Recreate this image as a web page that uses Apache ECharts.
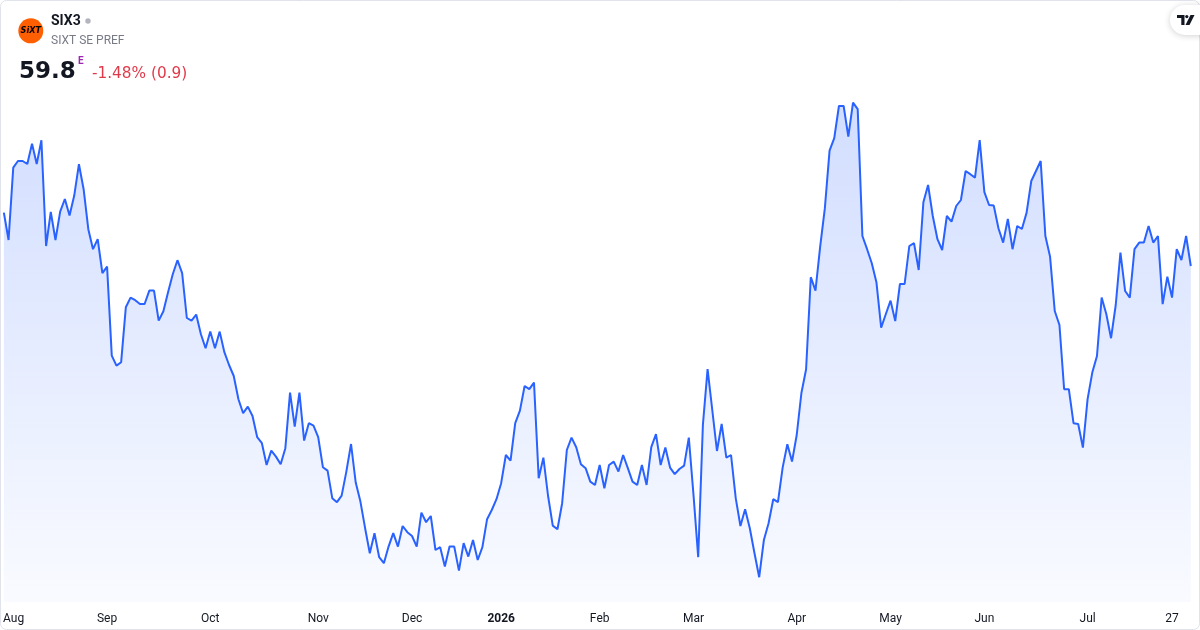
<!DOCTYPE html>
<html>
<head>
<meta charset="utf-8">
<script src="https://cdn.jsdelivr.net/npm/echarts@6/dist/echarts.min.js"></script>
<style>
html,body{margin:0;padding:0;background:#fff;}
#chart{width:1200px;height:630px;}
</style>
</head>
<body>
<div id="chart"></div>
<script>
// ---- data ----
const ticker = 'SIX3';
const companyName = 'SIXT SE PREF';
const lastPrice = '59.8';
const changeText = '-1.48% (0.9)';
const startDate = '2025-07-31';
const holidays = ['2025-12-24','2025-12-25','2025-12-26','2025-12-31','2026-01-01','2026-04-03','2026-04-06','2026-05-01'];
const extraLabelDays = ['2026-07-27'];
const monthNames = ['Jan','Feb','Mar','Apr','May','Jun','Jul','Aug','Sep','Oct','Nov','Dec'];
const prices = [
62.47,61.10,64.72,65.05,65.05,64.90,65.92,64.90,66.09,60.80,
62.50,61.10,62.52,63.15,62.32,63.32,64.89,63.64,61.64,60.64,
61.14,59.44,59.77,55.32,54.82,54.99,57.74,58.22,58.09,57.90,
57.90,58.57,58.57,57.07,57.54,58.49,59.39,60.09,59.44,57.20,
57.07,57.37,56.39,55.69,56.52,55.69,56.52,55.49,54.85,54.30,
53.14,52.44,52.77,52.30,51.24,50.94,49.85,50.57,50.27,49.89,
50.69,53.47,51.77,53.47,51.07,51.94,51.82,51.24,49.74,49.57,
48.19,47.99,48.32,49.52,50.90,48.97,48.02,46.69,45.44,46.44,
45.24,44.94,45.77,46.44,45.77,46.80,46.49,46.30,45.77,47.47,
46.99,47.30,45.60,45.74,44.77,45.77,45.77,44.57,45.94,45.27,
46.10,45.10,45.74,47.14,47.60,48.14,48.94,50.35,50.07,51.94,
52.57,53.80,53.64,53.97,49.19,50.22,48.30,46.82,46.64,47.94,
50.60,51.22,50.74,49.89,49.69,49.02,48.85,49.85,48.69,49.85,
50.02,49.52,50.35,49.69,49.02,48.85,49.85,48.85,50.74,51.39,
49.85,50.72,49.72,49.39,49.65,49.82,51.22,48.35,45.24,51.85,
54.64,52.60,50.55,51.90,50.22,50.35,48.19,46.80,47.64,46.69,
45.44,44.24,46.10,46.94,48.14,47.99,49.72,50.89,50.02,51.35,
53.45,54.64,59.24,58.57,60.77,62.69,65.57,66.19,67.80,67.80,
66.27,67.97,67.64,61.30,60.64,59.94,58.97,56.72,57.40,58.07,
57.05,58.90,58.90,60.80,60.94,59.60,62.99,63.85,62.30,61.14,
60.60,62.30,62.02,62.80,63.10,64.55,64.39,64.22,66.10,63.49,
62.85,62.82,61.69,60.97,62.15,60.64,61.80,61.65,62.47,64.05,
64.55,65.05,61.30,60.27,57.55,56.85,53.64,53.64,51.94,51.90,
50.72,53.14,54.47,55.30,58.22,57.39,56.19,57.85,60.47,58.55,
58.22,60.64,60.97,60.97,61.80,60.97,61.30,57.89,59.27,58.22,
60.64,60.10,61.30,59.80
];

// ---- trading-day categories ----
function iso(d){ return d.toISOString().slice(0,10); }
const dates = [];
(function(){
  const d = new Date(startDate + 'T00:00:00Z');
  while (dates.length < prices.length) {
    const wd = d.getUTCDay();
    const s = iso(d);
    if (wd !== 0 && wd !== 6 && holidays.indexOf(s) < 0) dates.push(s);
    d.setUTCDate(d.getUTCDate() + 1);
  }
})();
const labelIdx = {};
let firstLabelDone = false;
dates.forEach((s, i) => {
  if (i > 0 && s.slice(0,7) !== dates[i-1].slice(0,7)) {
    const m = +s.slice(5,7) - 1;
    if (m === 0) labelIdx[i] = '{b|' + s.slice(0,4) + '}';
    else if (!firstLabelDone) labelIdx[i] = '{f|' + monthNames[m] + '}';
    else labelIdx[i] = '{n|' + monthNames[m] + '}';
    firstLabelDone = true;
  }
  if (extraLabelDays.indexOf(s) >= 0) labelIdx[i] = '{n|' + (+s.slice(8,10)) + '}';
});

const chart = echarts.init(document.getElementById('chart'), null, {renderer:'canvas'});
const FONT = 'Roboto, "Noto Sans", sans-serif';
const labelStyle = {fontFamily: FONT, fontSize: 12, color: '#131722'};

chart.setOption({
  animation: false,
  backgroundColor: '#ffffff',
  grid: {left: 1.3, right: 9.2, top: 100, bottom: 28, containLabel: false},
  xAxis: {
    type: 'category',
    data: dates,
    boundaryGap: false,
    axisLine: {show: false},
    axisTick: {show: false},
    splitLine: {show: false},
    axisLabel: {
      interval: (i) => labelIdx[i] !== undefined,
      formatter: (v, i) => labelIdx[i] || '',
      margin: 11,
      rich: {
        n: Object.assign({}, labelStyle),
        b: Object.assign({}, labelStyle, {fontWeight: 'bold'}),
        f: Object.assign({}, labelStyle, {padding: [0, 0, 0, 10]})
      }
    }
  },
  yAxis: {
    type: 'value',
    min: 43.0,
    max: 68.1,
    show: false,
    splitLine: {show: false}
  },
  series: [{
    type: 'line',
    data: prices,
    symbol: 'none',
    lineStyle: {color: '#2962ff', width: 2},
    areaStyle: {
      color: new echarts.graphic.LinearGradient(0, 0, 0, 1, [
        {offset: 0, color: 'rgba(41,98,255,0.30)'},
        {offset: 1, color: 'rgba(41,98,255,0.04)'}
      ])
    }
  }],
  graphic: [
    {type: 'rect', shape: {x: 0.5, y: 0.5, width: 1199, height: 629, r: 6}, style: {fill: 'none', stroke: '#e0e3eb', lineWidth: 1}, z: 10, silent: true},
    {type: 'circle', shape: {cx: 30.8, cy: 30.8, r: 12.5}, style: {fill: '#ff5f00'}, z: 10},
    {type: 'text', x: 30.8, y: 31, style: {text: 'SiXT', font: 'italic bold 9px "DejaVu Sans Condensed", "DejaVu Sans", sans-serif', fill: '#000000', align: 'center', verticalAlign: 'middle'}, z: 11},
    {type: 'text', x: 51, y: 21, style: {text: ticker, font: 'bold 14px ' + FONT, fill: '#131722', verticalAlign: 'middle'}, z: 10},
    {type: 'circle', shape: {cx: 88, cy: 21, r: 2.7}, style: {fill: '#b2b5be'}, z: 10},
    {type: 'text', x: 51, y: 41, style: {text: companyName, font: '12px ' + FONT, fill: '#787b86', verticalAlign: 'middle'}, z: 10},
    {type: 'text', x: 19, y: 72, style: {text: lastPrice, font: 'bold 23px "DejaVu Sans", sans-serif', fill: '#131722', verticalAlign: 'middle'}, z: 10},
    {type: 'text', x: 78, y: 61, style: {text: 'E', font: 'bold 10px ' + FONT, fill: '#9c27b0', verticalAlign: 'middle'}, z: 10},
    {type: 'text', x: 92, y: 74.5, style: {text: changeText, font: '15.3px "DejaVu Sans", sans-serif', fill: '#e03a4a', verticalAlign: 'middle'}, z: 10},
    {type: 'rect', shape: {x: 1170, y: 5, width: 44, height: 30, r: 15}, style: {fill: '#ffffff', shadowBlur: 6, shadowColor: 'rgba(0,0,0,0.18)', shadowOffsetY: 1}, z: 10},
    {type: 'polygon', shape: {points: [[1177,15],[1184.5,15],[1184.5,25],[1181.3,25],[1181.3,18],[1177,18]]}, style: {fill: '#131722'}, z: 11},
    {type: 'circle', shape: {cx: 1186.8, cy: 16.6, r: 1.6}, style: {fill: '#131722'}, z: 11},
    {type: 'polygon', shape: {points: [[1190.5,15],[1194.5,15],[1189.5,25],[1185.5,25]]}, style: {fill: '#131722'}, z: 11}
  ]
});
</script>
</body>
</html>
